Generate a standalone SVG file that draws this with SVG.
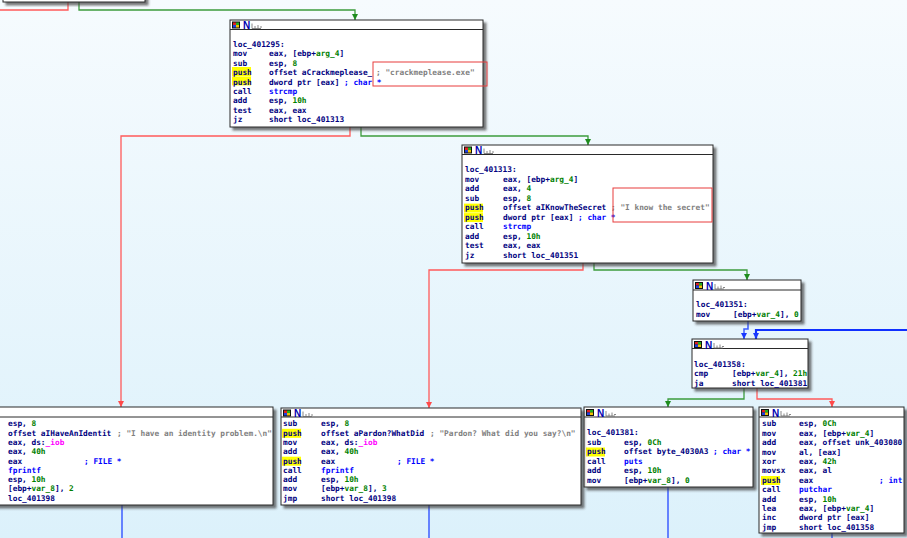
<svg xmlns="http://www.w3.org/2000/svg" width="907" height="538" viewBox="0 0 907 538">
<defs>
<linearGradient id="bg" x1="0" y1="0" x2="0" y2="1">
<stop offset="0" stop-color="#f6fbfe"/>
<stop offset="1" stop-color="#dcf1fb"/>
</linearGradient>
<filter id="sh" x="-5%" y="-5%" width="115%" height="125%">
<feDropShadow dx="3" dy="3" stdDeviation="1" flood-color="#404040" flood-opacity="0.7"/>
</filter>
<marker id="ar" viewBox="0 0 6 6" refX="6" refY="3" markerWidth="6" markerHeight="6" markerUnits="userSpaceOnUse" orient="auto"><path d="M0,0 L6,3 L0,6 Z" fill="#ff4a4a"/></marker>
<marker id="ag" viewBox="0 0 6 6" refX="6" refY="3" markerWidth="6" markerHeight="6" markerUnits="userSpaceOnUse" orient="auto"><path d="M0,0 L6,3 L0,6 Z" fill="#1e8c1e"/></marker>
<marker id="ab" viewBox="0 0 6 6" refX="6" refY="3" markerWidth="6" markerHeight="6" markerUnits="userSpaceOnUse" orient="auto"><path d="M0,0 L6,3 L0,6 Z" fill="#1838ff"/></marker>
<g id="ico">
<rect x="0" y="0.5" width="8" height="7" fill="#111"/>
<rect x="1" y="1.5" width="3" height="2.5" fill="#e02020"/>
<rect x="4" y="1.5" width="3" height="2.5" fill="#20b020"/>
<rect x="1" y="4" width="3" height="2.5" fill="#2040e0"/>
<rect x="4" y="4" width="3" height="2.5" fill="#f0c000"/>
<path d="M20,2.5 V7.5 H29 M23,5 V7.5 M26,4 V7.5 M28,6 H30" fill="none" stroke="#6a6a6a" stroke-width="0.8"/>
</g>
</defs>
<style>
.blk{fill:#fff;stroke:#2a2a2a;stroke-width:1;filter:url(#sh)}
.hdr{fill:none;stroke:#2a2a2a;stroke-width:1}
.t{font-family:"DejaVu Sans Mono","Liberation Mono",monospace;font-size:7.8px;font-weight:bold;fill:#000080}
.nn{font-family:"Liberation Sans",Arial,sans-serif;font-size:10px;font-weight:bold;fill:#0000b0}
.n{fill:#008000}
.b{fill:#0000ff}
.g{fill:#808080}
.m{fill:#ff00ff}
.hl{fill:#ffff00}
.rb{fill:none;stroke:#e83c3c;stroke-width:1}
.cr{fill:none;stroke:#ff5a5a;stroke-width:1.3}
.cg{fill:none;stroke:#3c9c3c;stroke-width:1.3}
.cb{fill:none;stroke:#3c5cff;stroke-width:1.5}
.cbb{fill:none;stroke:#1030ff;stroke-width:2.2}
</style>
<rect width="907" height="538" fill="url(#bg)"/>

<g id="connectors">
<path class="cr" d="M68,0 V10 H0"/>
<path class="cg" d="M79,0 V10 H355 V20" marker-end="url(#ag)"/>
<path class="cr" d="M350,127 V136 H121 V407" marker-end="url(#ar)"/>
<path class="cg" d="M361,127 V136 H588 V145" marker-end="url(#ag)"/>
<path class="cr" d="M583,263 V270 H429 V408" marker-end="url(#ar)"/>
<path class="cg" d="M594,263 V270 H747 V280" marker-end="url(#ag)"/>
<path class="cb" d="M748,321 V329 H744 V339" marker-end="url(#ab)"/>
<path class="cbb" d="M907,330 H756 V339" marker-end="url(#ab)"/>
<path class="cg" d="M744,388 V399 H668 V407" marker-end="url(#ag)"/>
<path class="cr" d="M757,388 V399 H832 V407" marker-end="url(#ar)"/>
<path class="cb" d="M668,487 V538"/>
<path class="cb" d="M832,533 V538"/>
<path class="cb" d="M122,505 V538"/>
<path class="cb" d="M429,505 V538"/>
</g>

<g id="node_prev">
<rect class="blk" x="3" y="-20" width="142" height="22"/>
</g>

<g id="loc_401295">
<rect class="blk" x="230" y="20" width="253" height="107"/>
<path class="hdr" d="M230,29.5 H483"/>
<use href="#ico" x="232" y="21"/>
<text class="nn" x="243" y="29">N</text>
<rect class="hl" x="232" y="67" width="19" height="9"/>
<rect class="hl" x="232" y="76.4" width="19" height="9"/>
<text class="t" x="233" y="47">loc_401295:</text>
<text class="t" x="233" y="56.4">mov</text><text class="t" x="269" y="56.4">eax, [ebp+<tspan class="n">arg_4</tspan>]</text>
<text class="t" x="233" y="65.8">sub</text><text class="t" x="269" y="65.8">esp, <tspan class="n">8</tspan></text>
<text class="t" x="233" y="75.2">push</text><text class="t" x="269" y="75.2">offset aCrackmeplease_</text><text class="t g" x="376" y="75.2">; "crackmeplease.exe"</text>
<text class="t" x="233" y="84.6">push</text><text class="t" x="269" y="84.6">dword ptr [eax]</text><text class="t b" x="344" y="84.6">; char *</text>
<text class="t" x="233" y="94">call</text><text class="t b" x="269" y="94">strcmp</text>
<text class="t" x="233" y="103.4">add</text><text class="t" x="269" y="103.4">esp, <tspan class="n">10h</tspan></text>
<text class="t" x="233" y="112.8">test</text><text class="t" x="269" y="112.8">eax, eax</text>
<text class="t" x="233" y="122.2">jz</text><text class="t" x="269" y="122.2">short loc_401313</text>
<rect class="rb" x="373" y="62" width="114" height="24"/>
</g>

<g id="loc_401313">
<rect class="blk" x="462" y="145" width="251" height="118"/>
<path class="hdr" d="M462,154.5 H713"/>
<use href="#ico" x="464" y="146"/>
<text class="nn" x="475" y="154">N</text>
<rect class="hl" x="464" y="203.6" width="19" height="9"/>
<rect class="hl" x="464" y="213.1" width="19" height="9"/>
<text class="t" x="465" y="172.3">loc_401313:</text>
<text class="t" x="465" y="181.8">mov</text><text class="t" x="503" y="181.8">eax, [ebp+<tspan class="n">arg_4</tspan>]</text>
<text class="t" x="465" y="191.3">add</text><text class="t" x="503" y="191.3">eax, <tspan class="n">4</tspan></text>
<text class="t" x="465" y="200.8">sub</text><text class="t" x="503" y="200.8">esp, <tspan class="n">8</tspan></text>
<text class="t" x="465" y="210.3">push</text><text class="t" x="503" y="210.3">offset aIKnowTheSecret</text><text class="t g" x="611" y="210.3">; "I know the secret"</text>
<text class="t" x="465" y="219.8">push</text><text class="t" x="503" y="219.8">dword ptr [eax]</text><text class="t b" x="578" y="219.8">; char *</text>
<text class="t" x="465" y="229.3">call</text><text class="t b" x="503" y="229.3">strcmp</text>
<text class="t" x="465" y="238.8">add</text><text class="t" x="503" y="238.8">esp, <tspan class="n">10h</tspan></text>
<text class="t" x="465" y="248.3">test</text><text class="t" x="503" y="248.3">eax, eax</text>
<text class="t" x="465" y="257.8">jz</text><text class="t" x="503" y="257.8">short loc_401351</text>
<rect class="rb" x="613" y="188" width="99" height="34"/>
</g>

<g id="loc_401351">
<rect class="blk" x="693" y="280" width="108" height="41"/>
<path class="hdr" d="M693,290 H801"/>
<use href="#ico" x="695" y="281.5"/>
<text class="nn" x="706" y="289.5">N</text>
<text class="t" x="696" y="307.3">loc_401351:</text>
<text class="t" x="696" y="317">mov</text><text class="t" x="733" y="317">[ebp+<tspan class="n">var_4</tspan>], <tspan class="n">0</tspan></text>
</g>

<g id="loc_401358">
<rect class="blk" x="692" y="339" width="116" height="49"/>
<path class="hdr" d="M692,348.5 H808"/>
<use href="#ico" x="694" y="340.5"/>
<text class="nn" x="705" y="348.5">N</text>
<text class="t" x="694" y="366.7">loc_401358:</text>
<text class="t" x="694" y="376.4">cmp</text><text class="t" x="732" y="376.4">[ebp+<tspan class="n">var_4</tspan>], <tspan class="n">21h</tspan></text>
<text class="t" x="694" y="386">ja</text><text class="t" x="732" y="386">short loc_401381</text>
</g>

<g id="loc_401381">
<rect class="blk" x="584" y="407" width="169" height="80"/>
<path class="hdr" d="M584,417 H753"/>
<use href="#ico" x="586" y="408.5"/>
<text class="nn" x="597" y="416.5">N</text>
<rect class="hl" x="586" y="447.5" width="19" height="9"/>
<text class="t" x="587" y="435.3">loc_401381:</text>
<text class="t" x="587" y="444.8">sub</text><text class="t" x="624" y="444.8">esp, <tspan class="n">0Ch</tspan></text>
<text class="t" x="587" y="454.3">push</text><text class="t" x="624" y="454.3">offset byte_4030A3</text><text class="t b" x="713" y="454.3">; char *</text>
<text class="t" x="587" y="463.8">call</text><text class="t b" x="624" y="463.8">puts</text>
<text class="t" x="587" y="473.3">add</text><text class="t" x="624" y="473.3">esp, <tspan class="n">10h</tspan></text>
<text class="t" x="587" y="482.8">mov</text><text class="t" x="624" y="482.8">[ebp+<tspan class="n">var_8</tspan>], <tspan class="n">0</tspan></text>
</g>

<g id="loc_loop_body">
<rect class="blk" x="759" y="407" width="145" height="126"/>
<path class="hdr" d="M759,417 H904"/>
<use href="#ico" x="761" y="408.5"/>
<text class="nn" x="772" y="416.5">N</text>
<rect class="hl" x="761" y="476" width="19" height="9"/>
<text class="t" x="762" y="426.3">sub</text><text class="t" x="799" y="426.3">esp, <tspan class="n">0Ch</tspan></text>
<text class="t" x="762" y="435.7">mov</text><text class="t" x="799" y="435.7">eax, [ebp+<tspan class="n">var_4</tspan>]</text>
<text class="t" x="762" y="445.1">add</text><text class="t" x="799" y="445.1">eax, offset unk_403080</text>
<text class="t" x="762" y="454.5">mov</text><text class="t" x="799" y="454.5">al, [eax]</text>
<text class="t" x="762" y="463.9">xor</text><text class="t" x="799" y="463.9">eax, <tspan class="n">42h</tspan></text>
<text class="t" x="762" y="473.3">movsx</text><text class="t" x="799" y="473.3">eax, al</text>
<text class="t" x="762" y="482.7">push</text><text class="t" x="799" y="482.7">eax</text><text class="t b" x="879" y="482.7">; int</text>
<text class="t" x="762" y="492.1">call</text><text class="t b" x="799" y="492.1">putchar</text>
<text class="t" x="762" y="501.5">add</text><text class="t" x="799" y="501.5">esp, <tspan class="n">10h</tspan></text>
<text class="t" x="762" y="510.9">lea</text><text class="t" x="799" y="510.9">eax, [ebp+<tspan class="n">var_4</tspan>]</text>
<text class="t" x="762" y="520.3">inc</text><text class="t" x="799" y="520.3">dword ptr [eax]</text>
<text class="t" x="762" y="529.7">jmp</text><text class="t" x="799" y="529.7">short loc_401358</text>
</g>

<g id="identity_block">
<rect class="blk" x="-40" y="407" width="313" height="98"/>
<path class="hdr" d="M-40,417 H273"/>
<text class="t" x="8" y="426.3">esp, <tspan class="n">8</tspan></text>
<text class="t" x="8" y="435.6">offset aIHaveAnIdentit</text><text class="t g" x="117" y="435.6">; "I have an identity problem.\n"</text>
<text class="t" x="8" y="444.9">eax, ds:<tspan class="m">_iob</tspan></text>
<text class="t" x="8" y="454.2">eax, <tspan class="n">40h</tspan></text>
<text class="t" x="8" y="463.5">eax</text><text class="t b" x="84" y="463.5">; FILE *</text>
<text class="t b" x="8" y="472.8">fprintf</text>
<text class="t" x="8" y="482.1">esp, <tspan class="n">10h</tspan></text>
<text class="t" x="8" y="491.4">[ebp+<tspan class="n">var_8</tspan>], <tspan class="n">2</tspan></text>
<text class="t" x="8" y="500.7">loc_401398</text>
</g>

<g id="pardon_block">
<rect class="blk" x="281" y="408" width="300" height="97"/>
<path class="hdr" d="M281,417 H581"/>
<use href="#ico" x="283" y="409"/>
<text class="nn" x="294" y="417">N</text>
<rect class="hl" x="282" y="428.8" width="19" height="9"/>
<rect class="hl" x="282" y="456.7" width="19" height="9"/>
<text class="t" x="283" y="426.3">sub</text><text class="t" x="321" y="426.3">esp, <tspan class="n">8</tspan></text>
<text class="t" x="283" y="435.6">push</text><text class="t" x="321" y="435.6">offset aPardon?WhatDid</text><text class="t g" x="430" y="435.6">; "Pardon? What did you say?\n"</text>
<text class="t" x="283" y="444.9">mov</text><text class="t" x="321" y="444.9">eax, ds:<tspan class="m">_iob</tspan></text>
<text class="t" x="283" y="454.2">add</text><text class="t" x="321" y="454.2">eax, <tspan class="n">40h</tspan></text>
<text class="t" x="283" y="463.5">push</text><text class="t" x="321" y="463.5">eax</text><text class="t b" x="397" y="463.5">; FILE *</text>
<text class="t" x="283" y="472.8">call</text><text class="t b" x="321" y="472.8">fprintf</text>
<text class="t" x="283" y="482.1">add</text><text class="t" x="321" y="482.1">esp, <tspan class="n">10h</tspan></text>
<text class="t" x="283" y="491.4">mov</text><text class="t" x="321" y="491.4">[ebp+<tspan class="n">var_8</tspan>], <tspan class="n">3</tspan></text>
<text class="t" x="283" y="500.7">jmp</text><text class="t" x="321" y="500.7">short loc_401398</text>
</g>
</svg>
